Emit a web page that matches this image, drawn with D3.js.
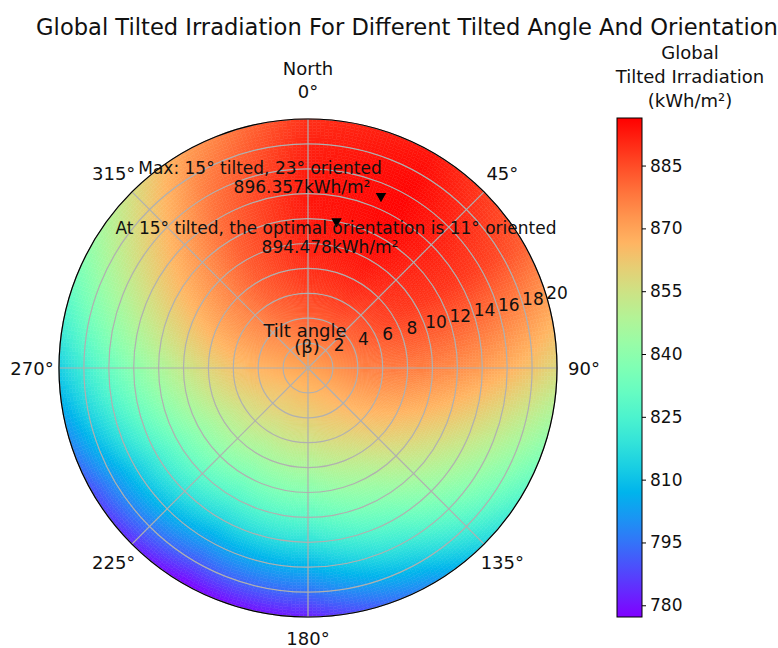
<!DOCTYPE html>
<html>
<head>
<meta charset="utf-8">
<script src="https://cdn.jsdelivr.net/npm/d3@7"></script>
<style>
  body { margin: 0; background: #fff; }
  svg text { font-family: "DejaVu Sans", sans-serif; fill: #111; }
</style>
</head>
<body>
<svg id="chart" width="778" height="648"></svg>
<script>
// tilt angle (deg) rows and orientation (deg from north, clockwise) columns
const tilts = [0, 2, 4, 6, 8, 10, 12, 14, 16, 18, 20];
const orientations = [0, 30, 60, 90, 120, 150, 180, 210, 240, 270, 300, 330];

// global tilted irradiation, kWh/m2 (one row per tilt, one column per orientation)
const gti = [
  [869.5, 869.5, 869.5, 869.5, 869.5, 869.5, 869.5, 869.5, 869.5, 869.5, 869.5, 869.5],
  [876.0, 876.4, 875.3, 872.9, 869.9, 867.1, 865.2, 864.8, 865.9, 868.3, 871.3, 874.1],
  [882.2, 883.0, 880.7, 876.0, 870.0, 864.4, 860.6, 859.8, 862.1, 866.8, 872.8, 878.4],
  [886.6, 887.9, 884.5, 877.4, 868.4, 860.0, 854.4, 853.1, 856.5, 863.7, 872.6, 881.1],
  [889.8, 891.5, 887.0, 877.4, 865.5, 854.2, 846.8, 845.1, 849.6, 859.2, 871.2, 882.4],
  [891.7, 893.8, 888.1, 876.2, 861.2, 847.2, 837.9, 835.8, 841.5, 853.4, 868.4, 882.4],
  [892.8, 895.3, 888.5, 874.2, 856.2, 839.4, 828.2, 825.7, 832.5, 846.8, 864.8, 881.6],
  [893.1, 896.0, 888.1, 871.4, 850.4, 830.8, 817.8, 814.8, 822.7, 839.4, 860.4, 880.0],
  [892.5, 895.9, 886.8, 867.8, 843.8, 821.4, 806.5, 803.1, 812.2, 831.2, 855.2, 877.6],
  [891.3, 895.1, 884.9, 863.5, 836.5, 811.3, 794.5, 790.7, 800.9, 822.4, 849.3, 874.5],
  [889.3, 893.5, 882.2, 858.3, 828.4, 800.3, 781.7, 777.2, 788.8, 812.7, 842.6, 870.7]
];

// highlighted points
const markerTilts = [15, 12];
const markerOrients = [23, 11];
const maxValue = 896.357;
const optValue = 894.478;

// ticks
const ringTicks = [2, 4, 6, 8, 10, 12, 14, 16, 18, 20];
const angleTicks = [0, 45, 90, 135, 180, 225, 270, 315];
const cbarTicks = [780, 795, 810, 825, 840, 855, 870, 885];

const svg = d3.select("#chart");
const cx = 308, cy = 368, R = 249;

const rScale = d3.scaleLinear().domain([0, 20]).range([0, R]);
const aScale = d3.scaleLinear().domain([0, 360]).range([0, 2 * Math.PI]);

// matplotlib "rainbow" colormap
function mplRainbow(t) {
  t = Math.max(0, Math.min(1, t));
  let r = Math.min(1, Math.abs(2 * t - 0.5));
  let g = Math.sin(Math.PI * t);
  let b = Math.cos(Math.PI * t / 2);
  return d3.rgb(r * 255, g * 255, b * 255).toString();
}
const vmin = d3.min(gti.flat());
const vmax = maxValue;
const color = d3.scaleSequential(mplRainbow).domain([vmin, vmax]);

// smooth shading between the grid values (like gouraud shading)
const tStep = tilts[1] - tilts[0];
const oStep = 360 / orientations.length;
function valueAt(t, a) {
  let ti = Math.min(t / tStep, tilts.length - 1.0001);
  let t0 = Math.floor(ti), ft = ti - t0;
  let ai = (a % 360) / oStep;
  let a0 = Math.floor(ai) % orientations.length;
  let a1 = (a0 + 1) % orientations.length;
  let fa = ai - Math.floor(ai);
  let row = k => gti[k][a0] * (1 - fa) + gti[k][a1] * fa;
  return row(t0) * (1 - ft) + row(t0 + 1) * ft;
}

let cells = [];
for (let t = 0; t < 20; t += 0.25) {
  for (let a = 0; a < 360; a += 1) {
    cells.push({ t0: t, t1: t + 0.25, a0: a, a1: a + 1, v: valueAt(t + 0.125, a + 0.5) });
  }
}

const arc = d3.arc()
  .innerRadius(d => rScale(d.t0))
  .outerRadius(d => rScale(d.t1))
  .startAngle(d => aScale(d.a0))
  .endAngle(d => aScale(d.a1));

const polar = svg.append("g").attr("transform", `translate(${cx},${cy})`);

polar.append("g").selectAll("path").data(cells).join("path")
  .attr("d", arc)
  .attr("fill", d => color(d.v))
  .attr("stroke", d => color(d.v))
  .attr("stroke-width", 0.5);

// grid
polar.append("g").selectAll("circle").data(ringTicks).join("circle")
  .attr("r", d => rScale(d))
  .attr("fill", "none")
  .attr("stroke", "#b0b0b0")
  .attr("stroke-width", 1.2);

polar.append("g").selectAll("line").data(angleTicks).join("line")
  .attr("x1", 0).attr("y1", 0)
  .attr("x2", d => rScale(20) * Math.sin(aScale(d)))
  .attr("y2", d => -rScale(20) * Math.cos(aScale(d)))
  .attr("stroke", "#b0b0b0")
  .attr("stroke-width", 1.2);

polar.append("circle")
  .attr("r", rScale(20))
  .attr("fill", "none")
  .attr("stroke", "#000")
  .attr("stroke-width", 1.2);

// angle labels
const labR = d => rScale(20) + 23 + 4 * Math.abs(Math.sin(aScale(d))) + (d === 0 ? 5 : 0) - (d === 180 ? 2 : 0);
polar.append("g").selectAll("text").data(angleTicks).join("text")
  .attr("x", d => labR(d) * Math.sin(aScale(d)))
  .attr("y", d => -labR(d) * Math.cos(aScale(d)))
  .attr("text-anchor", "middle")
  .attr("dominant-baseline", "central")
  .style("font-size", "18px")
  .text(d => d + "°");

polar.append("text")
  .attr("x", 0).attr("y", -labR(0) - 23)
  .attr("text-anchor", "middle")
  .attr("dominant-baseline", "central")
  .style("font-size", "18px")
  .text("North");

// radial labels
const rLabAngle = aScale(76.5);
polar.append("g").selectAll("text").data(ringTicks).join("text")
  .attr("x", d => rScale(d) * Math.sin(rLabAngle) + 7)
  .attr("y", d => -rScale(d) * Math.cos(rLabAngle) - 17)
  .attr("text-anchor", "middle")
  .attr("dominant-baseline", "central")
  .style("font-size", "17px")
  .text(d => d);

polar.append("text")
  .attr("x", -3).attr("y", -38)
  .attr("text-anchor", "middle")
  .attr("dominant-baseline", "central")
  .style("font-size", "18px")
  .text("Tilt angle");
polar.append("text")
  .attr("x", -1).attr("y", -22)
  .attr("text-anchor", "middle")
  .attr("dominant-baseline", "central")
  .style("font-size", "18px")
  .text("(β)");

// markers
const tri = d3.symbol().type(d3.symbolTriangle).size(48);
polar.append("g").selectAll("path").data(markerTilts).join("path")
  .attr("d", tri)
  .attr("fill", "#000")
  .attr("transform", (d, i) => {
    let a = aScale(markerOrients[i]);
    return `translate(${rScale(d) * Math.sin(a)},${-rScale(d) * Math.cos(a)}) rotate(180)`;
  });

// annotations
const notes = [
  { x: 260, y: 168, t: `Max: ${markerTilts[0]}° tilted, ${markerOrients[0]}° oriented` },
  { x: 302, y: 187, t: `${maxValue}kWh/m²` },
  { x: 336, y: 228, t: `At 15° tilted, the optimal orientation is ${markerOrients[1]}° oriented` },
  { x: 330, y: 247, t: `${optValue}kWh/m²` }
];
svg.append("g").selectAll("text").data(notes).join("text")
  .attr("x", d => d.x).attr("y", d => d.y)
  .attr("text-anchor", "middle")
  .attr("dominant-baseline", "central")
  .style("font-size", "17px")
  .text(d => d.t);

// title
svg.append("text")
  .attr("x", 407).attr("y", 27)
  .attr("text-anchor", "middle")
  .attr("dominant-baseline", "central")
  .style("font-size", "22.6px")
  .text("Global Tilted Irradiation For Different Tilted Angle And Orientation");

// colorbar
const cbX = 617, cbW = 25, cbTop = 118, cbBottom = 617;
const cbScale = d3.scaleLinear().domain([vmin, vmax]).range([cbBottom, cbTop]);

const grad = svg.append("defs").append("linearGradient")
  .attr("id", "cbgrad")
  .attr("x1", 0).attr("y1", 1).attr("x2", 0).attr("y2", 0);
grad.selectAll("stop").data(d3.range(0, 1.0001, 0.05)).join("stop")
  .attr("offset", d => d)
  .attr("stop-color", d => color(vmin + d * (vmax - vmin)));

svg.append("rect")
  .attr("x", cbX).attr("y", cbTop)
  .attr("width", cbW).attr("height", cbBottom - cbTop)
  .attr("fill", "url(#cbgrad)")
  .attr("stroke", "#000")
  .attr("stroke-width", 1);

const cbAxis = svg.append("g")
  .attr("transform", `translate(${cbX + cbW},0)`)
  .call(d3.axisRight(cbScale).tickValues(cbarTicks).tickSize(4).tickPadding(4));
cbAxis.select(".domain").remove();
cbAxis.selectAll("text").style("font-size", "17px").style("font-family", "DejaVu Sans").attr("fill", "#111");

const cbLabel = ["Global", "Tilted Irradiation", "(kWh/m²)"];
svg.append("g").selectAll("text").data(cbLabel).join("text")
  .attr("x", 690).attr("y", (d, i) => 52 + i * 24)
  .attr("text-anchor", "middle")
  .attr("dominant-baseline", "central")
  .style("font-size", "18px")
  .text(d => d);
</script>
</body>
</html>
